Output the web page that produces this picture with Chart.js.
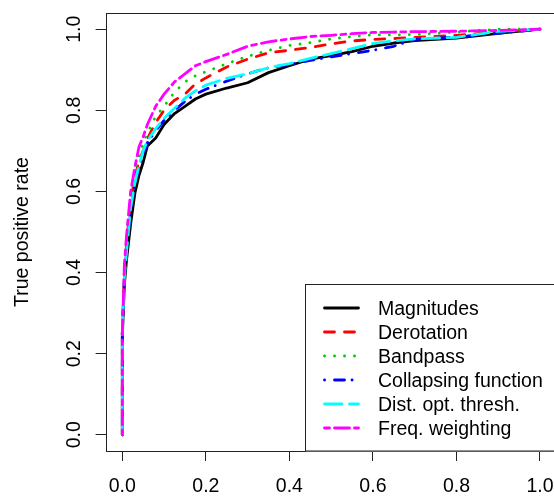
<!DOCTYPE html>
<html>
<head>
<meta charset="utf-8">
<script src="https://cdn.jsdelivr.net/npm/chart.js@4.4.1/dist/chart.umd.min.js"></script>
<style>
html, body { margin: 0; padding: 0; background: #fff; overflow: hidden; }
#rocChart { display: block; }
</style>
</head>
<body>
<canvas id="rocChart" width="560" height="496"></canvas>
<script>
// false positive rate grid (shared by all curves)
const fpr = [0, 0, 0.005, 0.01, 0.02, 0.03, 0.04, 0.05, 0.06, 0.08, 0.1, 0.125, 0.15, 0.175, 0.2, 0.25, 0.3, 0.35, 0.4, 0.45, 0.5, 0.55, 0.6, 0.65, 0.7, 0.8, 0.9, 1.0];

// true positive rate per method
const magnitudes    = [0, 0.24, 0.37, 0.43, 0.52, 0.595, 0.64, 0.672, 0.712, 0.732, 0.765, 0.792, 0.81, 0.828, 0.84, 0.855, 0.868, 0.893, 0.91, 0.926, 0.935, 0.945, 0.958, 0.966, 0.972, 0.978, 0.99, 1.0];
const derotation    = [0, 0.25, 0.40, 0.47, 0.575, 0.635, 0.675, 0.70, 0.73, 0.77, 0.80, 0.825, 0.84, 0.865, 0.88, 0.907, 0.926, 0.942, 0.948, 0.955, 0.964, 0.971, 0.975, 0.977, 0.980, 0.985, 0.993, 1.0];
const bandpass      = [0, 0.25, 0.41, 0.48, 0.585, 0.645, 0.69, 0.72, 0.745, 0.785, 0.81, 0.845, 0.87, 0.885, 0.895, 0.915, 0.933, 0.948, 0.960, 0.967, 0.976, 0.982, 0.986, 0.986, 0.987, 0.993, 1.0, 1.0];
const collapsing    = [0, 0.25, 0.39, 0.45, 0.555, 0.615, 0.66, 0.69, 0.72, 0.75, 0.775, 0.80, 0.822, 0.84, 0.852, 0.872, 0.89, 0.905, 0.913, 0.923, 0.932, 0.94, 0.948, 0.958, 0.975, 0.981, 0.99, 1.0];
const distOptThresh = [0, 0.25, 0.39, 0.45, 0.56, 0.62, 0.665, 0.70, 0.725, 0.755, 0.78, 0.805, 0.83, 0.848, 0.862, 0.879, 0.89, 0.905, 0.915, 0.928, 0.94, 0.952, 0.965, 0.971, 0.976, 0.980, 0.995, 1.0];
const freqWeighting = [0, 0.25, 0.42, 0.49, 0.60, 0.66, 0.71, 0.735, 0.765, 0.81, 0.84, 0.87, 0.89, 0.91, 0.92, 0.938, 0.958, 0.969, 0.976, 0.982, 0.985, 0.989, 0.992, 0.993, 0.994, 0.995, 0.997, 1.0];

const seriesNames = ['Magnitudes', 'Derotation', 'Bandpass', 'Collapsing function', 'Dist. opt. thresh.', 'Freq. weighting'];
const xTicks = [0, 0.2, 0.4, 0.6, 0.8, 1.0];
const yTicks = [0, 0.2, 0.4, 0.6, 0.8, 1.0];
const yTitle = 'True positive rate';

// R default palette + lty 1..6
const colors = ['#000000', '#FF0000', '#00CD00', '#0000FF', '#00FFFF', '#FF00FF'];
const dashes = [[], [10, 10], [0.1, 9.9], [0.1, 9.9, 10, 7.5], [17.5, 7.5], [5, 5, 15, 5]];

const FONT = "'Liberation Sans', Arial, Helvetica, sans-serif";
const FS = 19.5;
Chart.defaults.font.family = FONT;
Chart.defaults.font.size = FS;
Chart.defaults.color = '#000';

const allTpr = [magnitudes, derotation, bandpass, collapsing, distOptThresh, freqWeighting];

const datasets = allTpr.map((tpr, i) => ({
    label: seriesNames[i],
    data: fpr.map((x, k) => ({ x: x, y: tpr[k] })),
    borderColor: colors[i],
    borderWidth: 2.8,
    borderDash: dashes[i],
    borderCapStyle: 'round',
    borderJoinStyle: 'round',
    pointRadius: 0,
    tension: 0,
    fill: false,
    order: allTpr.length - i   // later curves drawn on top, like R
}));

// box, rotated y labels and R-style legend
const rStyle = {
    id: 'rStyle',
    afterDraw(chart) {
        const ctx = chart.ctx;
        const a = chart.chartArea;
        const ys = chart.scales.y;
        ctx.save();
        ctx.strokeStyle = '#222';
        ctx.lineWidth = 1;
        ctx.strokeRect(Math.round(a.left) + 0.5, Math.round(a.top) + 0.5, Math.round(a.right - a.left), Math.round(a.bottom - a.top));

        ctx.fillStyle = '#000';
        ctx.font = FS + 'px ' + FONT;
        ctx.textAlign = 'center';
        ctx.textBaseline = 'alphabetic';
        ys.ticks.forEach(t => {
            const py = ys.getPixelForValue(t.value);
            ctx.save();
            ctx.translate(80, py);
            ctx.rotate(-Math.PI / 2);
            ctx.fillText(t.value.toFixed(1), 0, 0);
            ctx.restore();
        });

        // legend
        const lx = 305.5, ly = 284.5;
        ctx.fillStyle = '#fff';
        ctx.fillRect(lx, ly, chart.width - lx + 5, Math.round(a.bottom) - ly + 0.5);
        ctx.strokeRect(lx, ly, chart.width - lx + 5, Math.round(a.bottom) - ly);
        chart.data.datasets.forEach((ds, i) => {
            const rowY = 308 + i * 24;
            ctx.save();
            ctx.strokeStyle = ds.borderColor;
            ctx.lineWidth = ds.borderWidth;
            ctx.lineCap = 'round';
            ctx.setLineDash(ds.borderDash);
            ctx.beginPath();
            ctx.moveTo(324.5, rowY);
            ctx.lineTo(358.5, rowY);
            ctx.stroke();
            ctx.restore();
            ctx.fillStyle = '#000';
            ctx.textAlign = 'left';
            ctx.fillText(ds.label, 378, rowY + 7);
        });
        ctx.restore();
    }
};

new Chart(document.getElementById('rocChart'), {
    type: 'line',
    data: { datasets: datasets },
    options: {
        responsive: false,
        animation: false,
        layout: { padding: { left: 0, top: 13, right: 3.3, bottom: 0 } },
        plugins: { legend: { display: false }, tooltip: { enabled: false } },
        scales: {
            x: {
                type: 'linear',
                min: -0.04,
                max: 1.04,
                afterBuildTicks: s => { s.ticks = xTicks.map(v => ({ value: v })); },
                afterFit: s => { s.height = 45; s.paddingLeft = 0; s.paddingRight = 0; },
                grid: { drawOnChartArea: false, drawTicks: true, tickLength: 10, color: '#222' },
                border: { display: false },
                ticks: { padding: 14, maxRotation: 0, callback: v => v.toFixed(1), font: { size: FS } }
            },
            y: {
                type: 'linear',
                min: -0.04,
                max: 1.04,
                afterBuildTicks: s => { s.ticks = yTicks.map(v => ({ value: v })); },
                afterFit: s => { s.width = 105.6; s.paddingTop = 0; s.paddingBottom = 0; },
                grid: { drawOnChartArea: false, drawTicks: true, tickLength: 10, color: '#222' },
                border: { display: false },
                ticks: { display: false },
                title: { display: true, text: yTitle, font: { size: FS }, padding: { top: 11, bottom: 0 } }
            }
        }
    },
    plugins: [rStyle]
});
</script>
</body>
</html>
